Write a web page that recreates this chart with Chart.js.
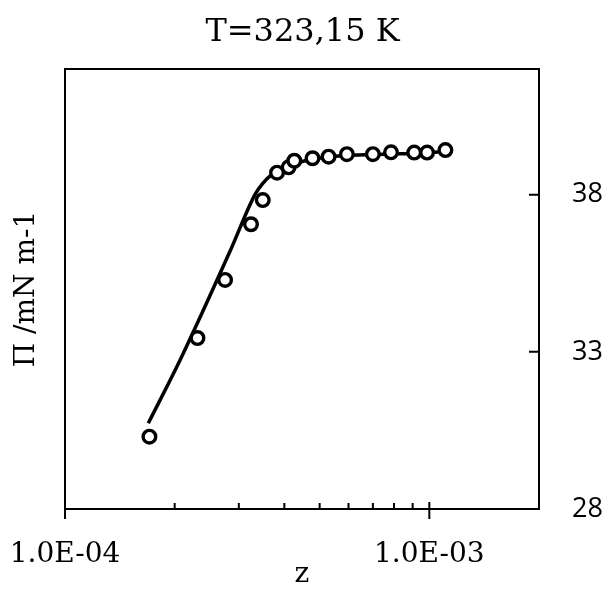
<!DOCTYPE html>
<html>
<head>
<meta charset="utf-8">
<title>T=323,15 K</title>
<script src="https://cdn.jsdelivr.net/npm/chart.js@4.4.1/dist/chart.umd.min.js"></script>
<style>
  body { margin: 0; background: #fff; }
  #wrap { width: 605px; height: 604px; }
</style>
</head>
<body>
<div id="wrap"><canvas id="chart"></canvas></div>
<script>
// données
const zExp = [1.705e-4, 2.31e-4, 2.75e-4, 3.24e-4, 3.49e-4, 3.82e-4, 4.11e-4, 4.26e-4,
              4.78e-4, 5.29e-4, 5.94e-4, 7.00e-4, 7.85e-4, 9.09e-4, 9.86e-4, 1.107e-3];
const piExp = [30.30, 33.44, 35.29, 37.06, 37.83, 38.70, 38.87, 39.08,
               39.16, 39.21, 39.29, 39.29, 39.35, 39.34, 39.34, 39.42];

// courbe du modèle
const zModel = [1.693e-4, 2.07e-4, 2.84e-4, 3.327e-4, 3.477e-4, 3.658e-4, 3.896e-4, 4.204e-4,
                4.564e-4, 5.018e-4, 5.878e-4, 6.884e-4, 8.325e-4, 9.75e-4, 1.107e-3];
const piModel = [30.73, 32.74, 36.21, 38.02, 38.34, 38.60, 38.80, 38.96,
                 39.08, 39.17, 39.25, 39.28, 39.30, 39.33, 39.37];

const xTickValues = [1e-4, 1e-3];
const xTickLabels = ['1.0E-04', '1.0E-03'];
const xMinorTicks = [2e-4, 3e-4, 4e-4, 5e-4, 6e-4, 7e-4, 8e-4, 9e-4];
const yTickValues = [28, 33, 38];

const serif = '"DejaVu Serif", serif';
const sans = '"Open Sans", sans-serif';

// cadre + petites graduations
const frameTicks = {
    id: 'frameTicks',
    afterDraw(chart) {
        const ctx = chart.ctx;
        const area = chart.chartArea;
        const x = chart.scales.x;
        const y = chart.scales.y;
        ctx.save();
        ctx.strokeStyle = '#000';
        ctx.lineWidth = 2;
        ctx.beginPath();
        ctx.moveTo(area.left, area.top);
        ctx.lineTo(area.right, area.top);
        xTickValues.forEach(v => {
            const px = x.getPixelForValue(v);
            ctx.moveTo(px, area.bottom - 7);
            ctx.lineTo(px, area.bottom + 10);
        });
        xMinorTicks.forEach(v => {
            const px = x.getPixelForValue(v);
            ctx.moveTo(px, area.bottom - 6);
            ctx.lineTo(px, area.bottom);
        });
        yTickValues.forEach(v => {
            const py = y.getPixelForValue(v);
            ctx.moveTo(area.right - 10, py);
            ctx.lineTo(area.right, py);
        });
        ctx.stroke();
        ctx.restore();
    }
};

new Chart(document.getElementById('chart'), {
    type: 'scatter',
    data: {
        datasets: [{
            label: 'exp',
            data: zExp.map((z, i) => ({ x: z, y: piExp[i] })),
            pointRadius: 6.3,
            pointBorderWidth: 3.4,
            borderColor: '#000',
            backgroundColor: '#fff',
            showLine: false
        }, {
            label: 'modèle',
            data: zModel.map((z, i) => ({ x: z, y: piModel[i] })),
            showLine: true,
            pointRadius: 0,
            borderColor: '#000',
            borderWidth: 3.5,
            cubicInterpolationMode: 'monotone'
        }]
    },
    options: {
        responsive: true,
        maintainAspectRatio: false,
        animation: false,
        layout: { padding: 0 },
        plugins: {
            legend: { display: false },
            tooltip: { enabled: false },
            title: {
                display: true,
                text: 'T=323,15 K',
                color: '#000',
                font: { family: serif, size: 32, weight: 'normal' },
                padding: { top: 13, bottom: 17.6 }
            }
        },
        scales: {
            x: {
                type: 'logarithmic',
                position: 'bottom',
                min: 1e-4,
                max: 2e-3,
                afterBuildTicks: s => { s.ticks = xTickValues.map(v => ({ value: v })); },
                afterFit: s => {
                    s.height = 95;
                    s.paddingLeft = 0;
                    s.paddingRight = 0;
                },
                ticks: {
                    callback: (v, i) => xTickLabels[i],
                    color: '#000',
                    font: { family: serif, size: 28 },
                    padding: 21,
                    maxRotation: 0,
                    autoSkip: false
                },
                grid: { display: false },
                border: { display: true, color: '#000', width: 2 },
                title: {
                    display: true,
                    text: 'z',
                    color: '#000',
                    font: { family: serif, size: 28 },
                    padding: { top: 0, bottom: 12 }
                }
            },
            y: {
                position: 'right',
                min: 28,
                max: 42,
                afterBuildTicks: s => { s.ticks = yTickValues.map(v => ({ value: v })); },
                afterFit: s => {
                    s.width = 66;
                    s.paddingTop = 0;
                    s.paddingBottom = 0;
                },
                ticks: {
                    color: '#000',
                    font: { family: sans, size: 27 },
                    padding: 25
                },
                grid: { display: false },
                border: { display: true, color: '#000', width: 2 }
            },
            yl: {
                position: 'left',
                min: 28,
                max: 42,
                afterFit: s => { s.width = 65; },
                ticks: { display: false },
                grid: { display: false },
                border: { display: true, color: '#000', width: 2 },
                title: {
                    display: true,
                    text: 'Π /mN m-1',
                    color: '#000',
                    font: { family: serif, size: 28 },
                    padding: { top: 10, bottom: 0 }
                }
            }
        }
    },
    plugins: [frameTicks]
});
</script>
</body>
</html>
